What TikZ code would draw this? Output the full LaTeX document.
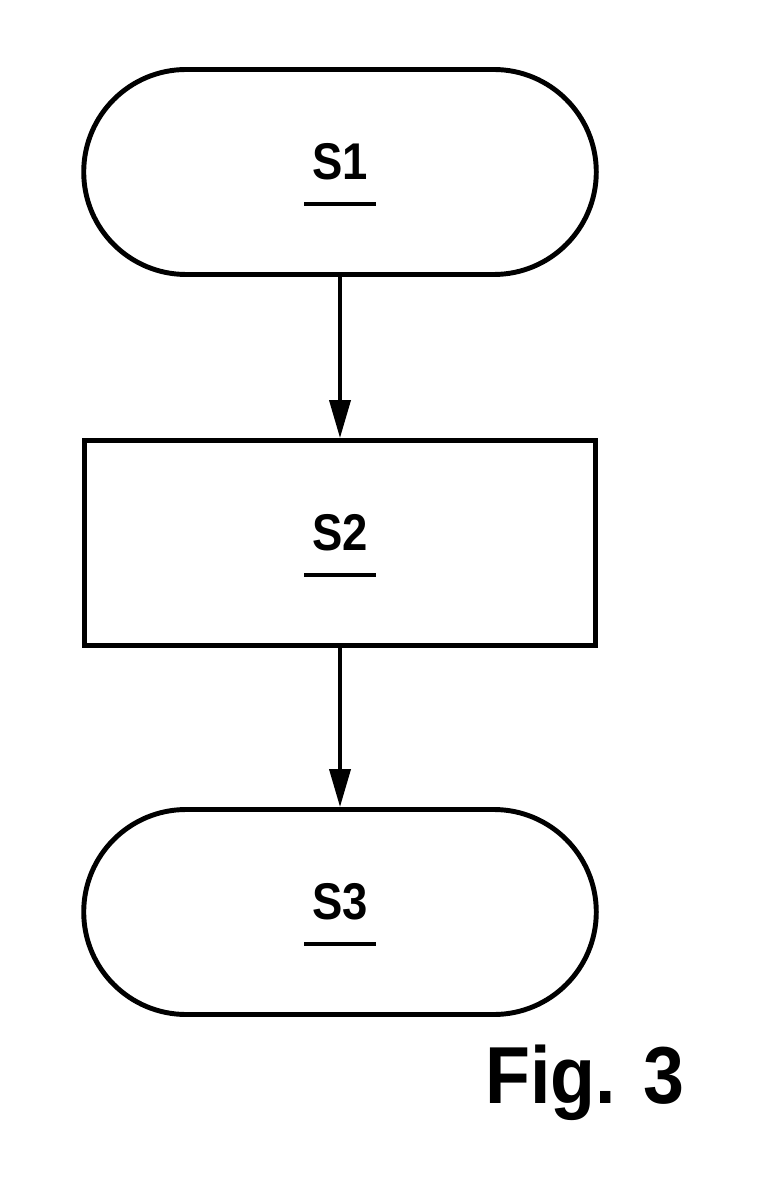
\documentclass[tikz,border=0pt]{standalone}
\usepackage{fontspec}
\setmainfont{Liberation Sans}
\usetikzlibrary{shapes.misc,arrows.meta}
\newcommand{\steplabel}[1]{\raisebox{-0.09cm}[\height][\depth]{\begin{tabular}{@{}c@{}}\scalebox{0.88}[1]{#1}\\[-9.5pt]\rule{0.72cm}{1.3pt}\end{tabular}}}
\tikzset{
  stadium/.style={draw, line width=1.4pt, rounded rectangle, minimum width=5.36cm, minimum height=2.05cm, font=\fontsize{14.7}{17}\selectfont\bfseries},
  stepbox/.style={draw, line width=1.4pt, rectangle, minimum width=5.11cm, minimum height=2.05cm, font=\fontsize{14.7}{17}\selectfont\bfseries},
  flow/.style={line width=1.1pt, -{Triangle[length=0.38cm, width=0.21cm]}}
}
\begin{document}
\begin{tikzpicture}
\useasboundingbox (0,0) rectangle (7.67,-11.93);
\node[stadium] (s1) at (3.40,-1.72) {\steplabel{S1}};
\node[stepbox] (s2) at (3.40,-5.43) {\steplabel{S2}};
\node[stadium] (s3) at (3.40,-9.12) {\steplabel{S3}};
\draw[flow] (s1) -- (s2);
\draw[flow] (s2) -- (s3);
\node[anchor=base east, font=\fontsize{23}{27}\selectfont\bfseries, inner sep=0pt] (fig) at (6.85,-11.03) {\scalebox{0.91}[1]{Fig. 3}};
\end{tikzpicture}
\end{document}
